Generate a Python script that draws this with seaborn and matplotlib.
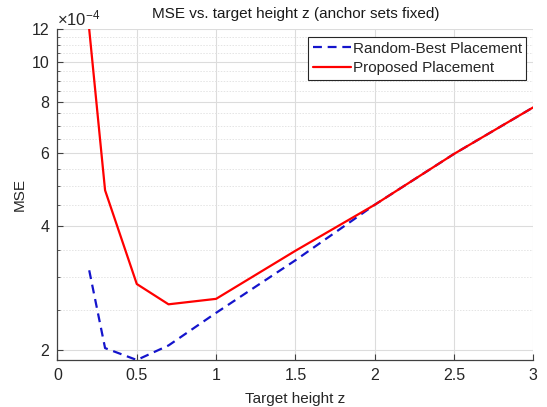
import numpy as np
import pandas as pd
import matplotlib
matplotlib.use("Agg")
import matplotlib.pyplot as plt
import seaborn as sns
from matplotlib.ticker import FixedLocator, FuncFormatter, NullFormatter

# ---- data ----
z = [0.2, 0.3, 0.5, 0.7, 1.0, 1.5, 2.0, 2.5, 3.0]
random_best = [3.12e-4, 2.02e-4, 1.89e-4, 2.05e-4, 2.46e-4, 3.30e-4, 4.50e-4, 5.98e-4, 7.76e-4]
proposed = [12.0e-4, 4.88e-4, 2.89e-4, 2.58e-4, 2.66e-4, 3.48e-4, 4.50e-4, 5.98e-4, 7.76e-4]
series_names = ["Random-Best Placement", "Proposed Placement"]
x_ticks = [0, 0.5, 1, 1.5, 2, 2.5, 3]
y_ticks = [2e-4, 4e-4, 6e-4, 8e-4, 10e-4, 12e-4]
y_minor = [v * 1e-4 for v in np.arange(1.5, 12.01, 0.5)]

df = pd.DataFrame({
    "z": z * 2,
    "MSE": random_best + proposed,
    "series": [series_names[0]] * len(z) + [series_names[1]] * len(z),
})

sns.set_theme(style="white")
plt.rcParams["font.family"] = ["Liberation Sans", "DejaVu Sans"]
plt.rcParams["mathtext.fontset"] = "custom"
plt.rcParams["mathtext.rm"] = "Liberation Sans"
plt.rcParams["mathtext.it"] = "Liberation Sans:italic"

fig = plt.figure(figsize=(5.47, 4.07), dpi=100)
ax = fig.add_axes([0.1051, 0.1155, 0.8699, 0.8125])

colors = {series_names[0]: "#1414cc", series_names[1]: "#ff0000"}
styles = {series_names[0]: (0, (4, 2.6)), series_names[1]: "-"}
for name in series_names:
    sub = df[df["series"] == name]
    sns.lineplot(data=sub, x="z", y="MSE", ax=ax, color=colors[name],
                 linewidth=1.6, label=name, sort=False, estimator=None)
    ax.lines[-1].set_linestyle(styles[name])

ax.set_yscale("log")
ax.set_xlim(0, 3)
ax.set_ylim(min(min(random_best), min(proposed)), max(max(random_best), max(proposed)))

ax.xaxis.set_major_locator(FixedLocator(x_ticks))
ax.xaxis.set_major_formatter(FuncFormatter(lambda v, p: f"{v:g}"))
ax.yaxis.set_major_locator(FixedLocator(y_ticks))
ax.yaxis.set_minor_locator(FixedLocator(y_minor))
ax.yaxis.set_major_formatter(FuncFormatter(lambda v, p: f"{v/1e-4:.0f}"))
ax.yaxis.set_minor_formatter(NullFormatter())

ax.grid(True, which="major", axis="both", color="#dcdcdc", linewidth=0.8, linestyle="-")
ax.grid(True, which="minor", axis="y", color="#e4e4e4", linewidth=0.7, linestyle=(0, (1.5, 1.5)))
ax.set_axisbelow(True)

for s in ["top", "right"]:
    ax.spines[s].set_visible(False)
for s in ["left", "bottom"]:
    ax.spines[s].set_color("#404040")
    ax.spines[s].set_linewidth(0.9)

ax.tick_params(axis="both", which="major", direction="in", length=4, width=0.8,
               color="#404040", labelsize=11.5, labelcolor="#262626", pad=6,
               left=True, bottom=True)
ax.tick_params(axis="y", which="minor", direction="in", length=2.2, width=0.6,
               color="#404040", left=True)

ax.set_xlabel("Target height z", fontsize=11, color="#262626", labelpad=6)
ax.set_ylabel("MSE", fontsize=11, color="#262626", labelpad=3)
ax.set_title("MSE vs. target height z (anchor sets fixed)", fontsize=11,
             color="#1a1a1a", pad=8)
ax.text(0.0, 1.003, r"$\times10^{-4}$", transform=ax.transAxes, fontsize=12,
        color="#262626", ha="left", va="bottom")

leg = ax.legend(loc="upper right", bbox_to_anchor=(0.995, 0.99), fontsize=11,
                frameon=True, fancybox=False, framealpha=1, edgecolor="#262626",
                handlelength=2.5, handletextpad=0.1, labelspacing=0.35,
                borderpad=0.3, borderaxespad=0.3)
leg.get_frame().set_linewidth(0.8)

fig.savefig("out.png", dpi=100, facecolor="white")
